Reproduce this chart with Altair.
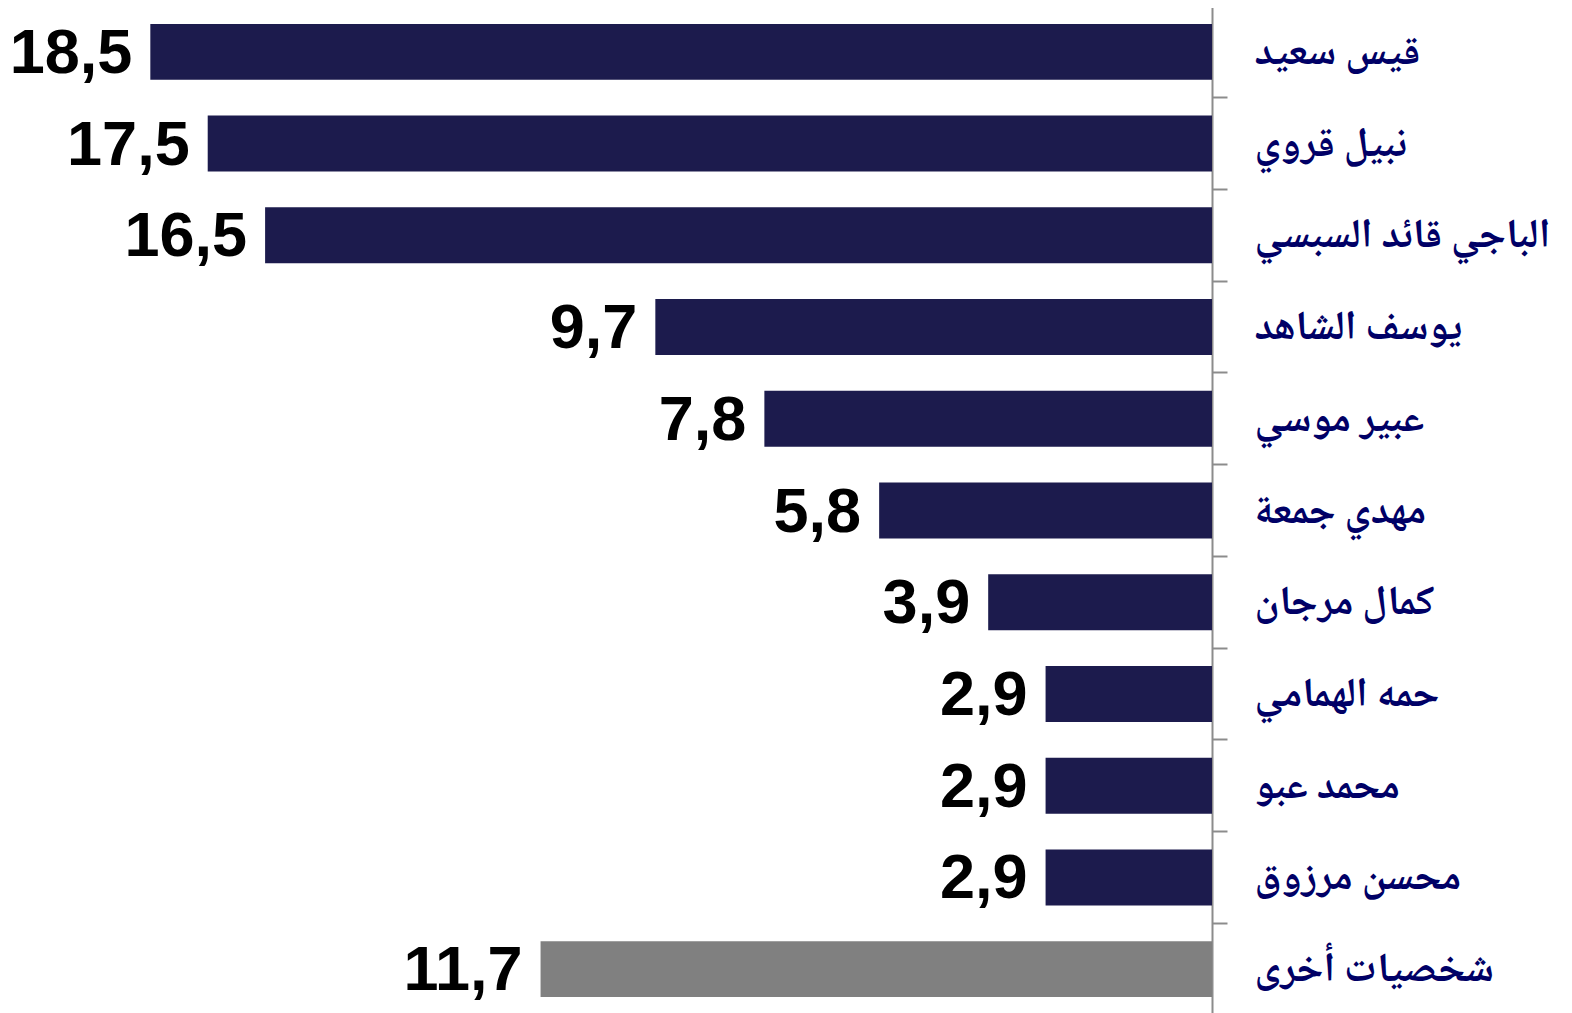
import altair as alt
import pandas as pd

names = [
    "قيس سعيد",
    "نبيل قروي",
    "الباجي قائد السبسي",
    "يوسف الشاهد",
    "عبير موسي",
    "مهدي جمعة",
    "كمال مرجان",
    "حمه الهمامي",
    "محمد عبو",
    "محسن مرزوق",
    "شخصيات أخرى",
]
values = [18.5, 17.5, 16.5, 9.7, 7.8, 5.8, 3.9, 2.9, 2.9, 2.9, 11.7]
groups = ["main"] * 10 + ["other"]

df = pd.DataFrame({"name": names, "v": values, "g": groups})

y_enc = alt.Y(
    "name:N",
    sort=names,
    scale=alt.Scale(paddingInner=0.39, paddingOuter=0.195),
    axis=alt.Axis(
        orient="right",
        title=None,
        domainColor="#8c8c8c",
        domainWidth=2,
        tickColor="#8c8c8c",
        tickWidth=2,
        tickSize=15,
        bandPosition=-0.32,
        labelPadding=27,
        labelAlign="left",
        labelBaseline="middle",
        labelLimit=0,
        labelFont="Noto Naskh Arabic, Noto Sans Arabic, DejaVu Sans",
        labelFontWeight="bold",
        labelFontSize=41,
        labelColor="#000066",
        grid=False,
    ),
)

x_enc = alt.X(
    "v:Q",
    scale=alt.Scale(domain=[0, 20.98], reverse=True, nice=False, zero=True),
    axis=None,
)

bars = alt.Chart(df).mark_bar().encode(
    x=x_enc,
    y=y_enc,
    color=alt.Color(
        "g:N",
        scale=alt.Scale(domain=["main", "other"], range=["#1c1b4d", "#808080"]),
        legend=None,
    ),
)

texts = alt.Chart(df).transform_calculate(
    lbl="replace(format(datum.v, '.1f'), '.', ',')"
).mark_text(
    align="right",
    baseline="middle",
    dx=-18,
    dy=2,
    fontSize=63,
    fontWeight="bold",
    font="Liberation Sans",
    color="#000000",
).encode(
    x=x_enc,
    y=alt.Y("name:N", sort=names),
    text="lbl:N",
)

chart = alt.layer(bars, texts).properties(
    width=1204,
    height=1009,
    autosize=alt.AutoSizeParams(type="none"),
    padding={"left": 0, "top": -2, "right": 350, "bottom": 0},
).configure_view(stroke=None)

chart.save("out.html", embed_options={"renderer": "svg", "actions": False})
